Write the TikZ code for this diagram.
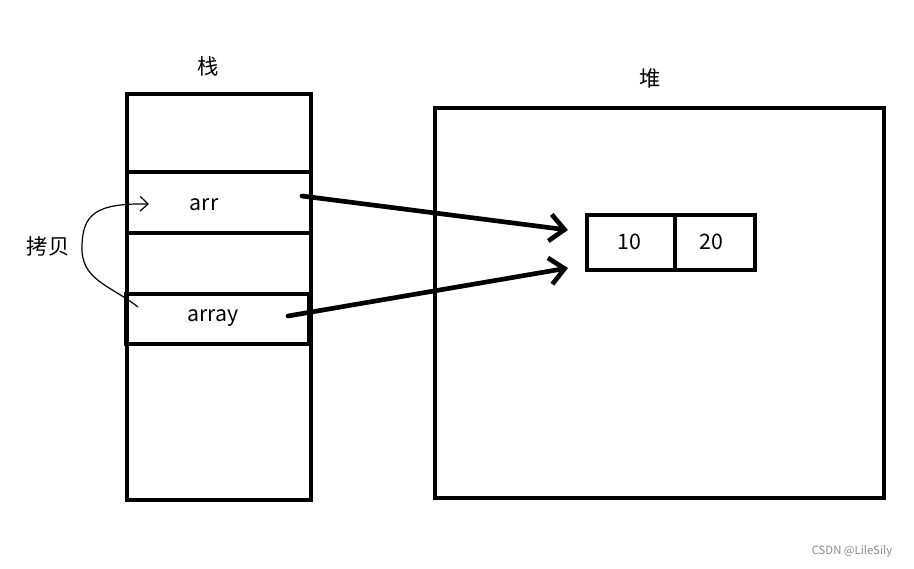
\documentclass[tikz,border=0pt]{standalone}
\usepackage{fontspec}
\setmainfont{Noto Sans CJK SC}
\usetikzlibrary{arrows.meta}
\tikzset{
  box/.style={draw=black,line width=3.3pt},
  lbl/.style={font=\fontsize{16}{19}\selectfont,inner sep=0pt},
  thick arrow/.style={line width=3.5pt,line cap=round,-{Straight Barb[length=11pt,width=20pt,line width=3.5pt]}},
}
\begin{document}
\begin{tikzpicture}[x=0.75pt,y=-0.75pt]
\useasboundingbox (0,0) rectangle (914,568);
\fill[white] (0,0) rectangle (914,568);
% stack
\draw[box] (127,94) rectangle (311,500);
\node[draw,line width=3.3pt,minimum width=138pt,minimum height=45.75pt,inner sep=0pt] (arrrow) at (219,202.5) {};
\node[draw,line width=3.3pt,minimum width=137.25pt,minimum height=37.5pt,inner sep=0pt] (arrayrow) at (217.5,319) {};
\node[lbl] (arr) at (204,205) {arr};
\node[lbl] (array) at (213,318) {array};
\node[lbl] (stack) at (208,66) {栈};
% heap
\draw[box] (435,108) rectangle (884,498);
\node[lbl] (heap) at (650,78) {堆};
\node[draw,line width=3.3pt,minimum width=66pt,minimum height=41.25pt,inner sep=0pt] (c10) at (631,242.5) {};
\node[draw,line width=3.3pt,minimum width=60pt,minimum height=41.25pt,inner sep=0pt] (c20) at (715,242.5) {};
\node[lbl] (t10) at (629,242) {10};
\node[lbl] (t20) at (711,242) {20};
% arrows
\coordinate (s1) at (302,196);
\coordinate (e1) at (568,230);
\coordinate (s2) at (288,316);
\coordinate (e2) at (568,268);
\draw[thick arrow] (s1) -- (e1);
\draw[thick arrow] (s2) -- (e2);
% copy curve
\coordinate (cs) at (138,307);
\coordinate (ce) at (149,204);
\draw[line width=0.9pt,-{Straight Barb[length=6pt,width=11pt,line width=0.9pt]}]
  (cs) .. controls (110,285) and (80,280) .. (82,245)
  .. controls (83,215) and (95,203) .. (ce);
\node[lbl] (copy) at (48,246) {拷贝};
\node[font=\fontsize{8.5}{10}\selectfont,text=black!45,inner sep=0pt] (wm) at (852,551) {CSDN @LileSily};
\end{tikzpicture}
\end{document}
